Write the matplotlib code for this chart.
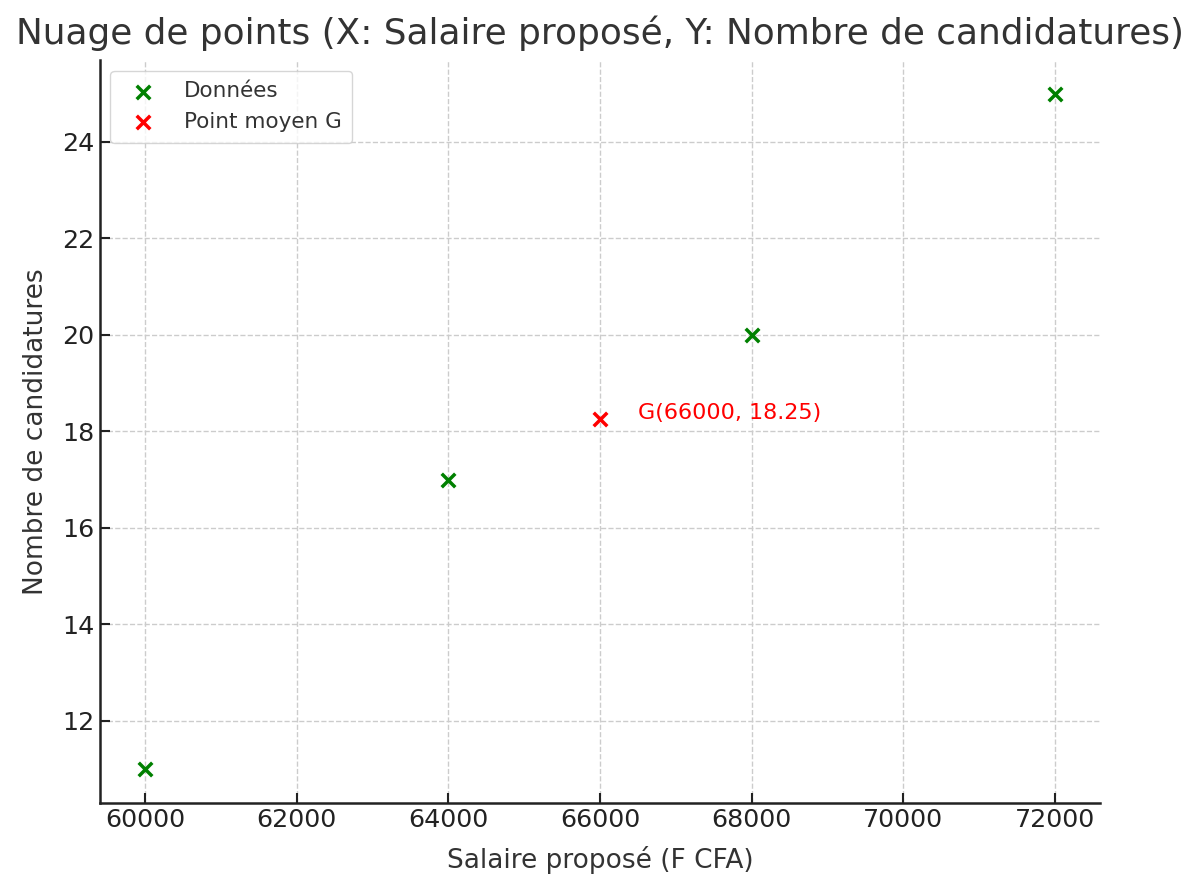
import numpy as np
import matplotlib
matplotlib.use("Agg")
import matplotlib.pyplot as plt

salaire = [60000, 64000, 68000, 72000]
candidatures = [11, 17, 20, 25]
gx = np.mean(salaire)
gy = np.mean(candidatures)

plt.rcParams['text.color'] = '#333333'
plt.rcParams['axes.labelcolor'] = '#333333'
plt.rcParams['xtick.color'] = '#222222'
plt.rcParams['ytick.color'] = '#222222'

fig, ax = plt.subplots(figsize=(12, 8.92), dpi=100)
fig.subplots_adjust(left=0.083, right=0.917, bottom=0.0998, top=0.933)

ax.scatter(salaire, candidatures, marker='x', color='green', s=95, linewidths=2.5, label='Données')
ax.scatter([gx], [gy], marker='x', color='red', s=95, linewidths=2.5, label='Point moyen G')
ax.text(gx + 500, gy, f"G({gx:.0f}, {gy})", color='red', fontsize=16)

ax.set_title("Nuage de points (X: Salaire proposé, Y: Nombre de candidatures)", fontsize=25.8, pad=11)
ax.set_xlabel("Salaire proposé (F CFA)", fontsize=19, labelpad=10)
ax.set_ylabel("Nombre de candidatures", fontsize=19, labelpad=10)
ax.tick_params(labelsize=18.3, direction='in', length=7, width=1.5)
ax.grid(True, linestyle='--', color='#cccccc', linewidth=1)
ax.set_axisbelow(True)
for s in ['top', 'right']:
    ax.spines[s].set_visible(False)
for s in ['left', 'bottom']:
    ax.spines[s].set_linewidth(1.8)
    ax.spines[s].set_color('#222222')
ax.legend(loc='upper left', fontsize=15.5, borderpad=0.5, handletextpad=0.9)

plt.savefig("out.png")
